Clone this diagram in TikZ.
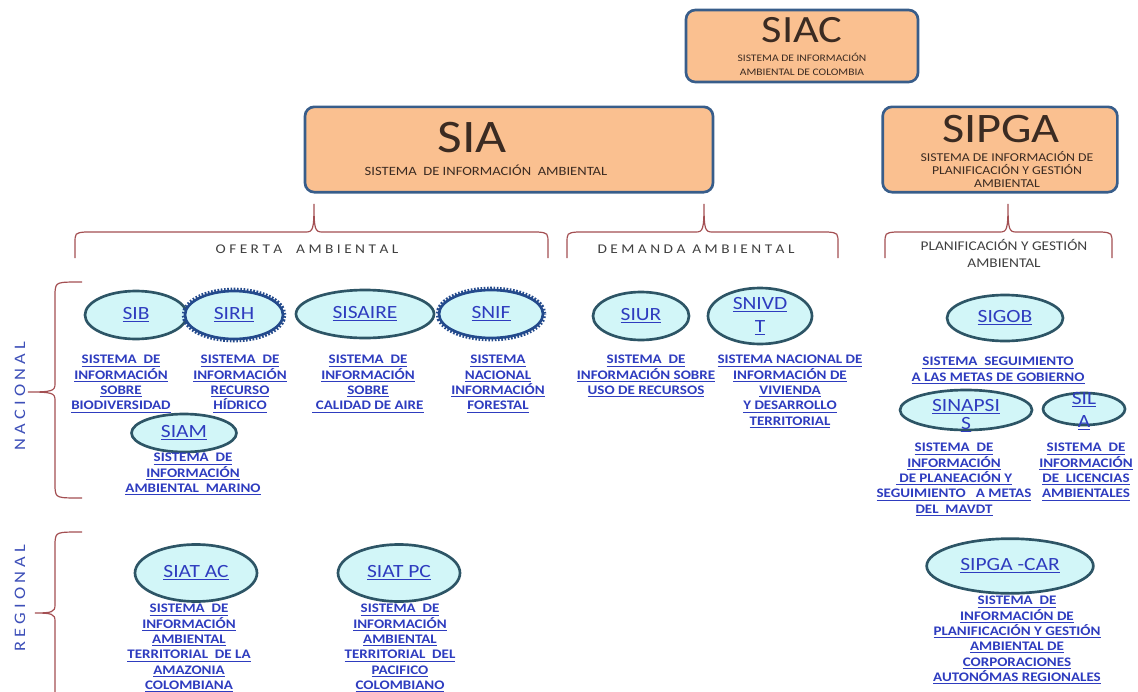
\documentclass[tikz,border=0pt]{standalone}
\usepackage{fontspec}
\setmainfont{Carlito}[FakeStretch=1.15]
\usetikzlibrary{positioning, shapes.geometric}
\definecolor{boxfill}{HTML}{FAC090}
\definecolor{boxline}{HTML}{385D8A}
\definecolor{ellfill}{HTML}{D2F6F8}
\definecolor{ellline}{HTML}{2D5566}
\definecolor{gearline}{HTML}{234A8C}
\definecolor{linkblue}{HTML}{2E3CBF}
\definecolor{bracered}{HTML}{A34F52}
\definecolor{sideblue}{HTML}{3D4FB8}
\definecolor{boxtext}{HTML}{3B2B22}
\tikzset{
    %curly brackets under the boxes and left of the rows
    brc/.style = {draw=bracered, line width=0.9pt},
}
\newcommand\lk[1]{\underline{#1}}
% horizontal bracket: left end, tip, right end
\newcommand\hbrace[3]{%
  \draw[brc] (#1,258) -- (#1,244) .. controls (#1,233) .. (#1+10,232)
    -- (#2-8,232) .. controls (#2-1,232) and (#2,229) .. (#2,204)
    .. controls (#2,229) and (#2+1,232) .. (#2+8,232)
    -- (#3-10,232) .. controls (#3,233) .. (#3,244) -- (#3,258);}
% vertical bracket: top, tip, bottom, tip x
\newcommand\vbrace[4]{%
  \draw[brc] (82,#1) .. controls (56,#1) .. (55,#1+10) -- (55,#2-8)
    .. controls (55,#2-1) and (52,#2) .. (#4,#2)
    .. controls (52,#2) and (55,#2+1) .. (55,#2+8)
    -- (55,#3-10) .. controls (56,#3) .. (82,#3);}

\begin{document}
\begin{tikzpicture}[x=0.75pt, y=-0.75pt,
    sysbox/.style = {draw=boxline, line width=2pt, fill=boxfill, rounded corners=7pt},
    boxtitle/.style = {text=boxtext, inner sep=0pt},
    boxsub/.style = {text=boxtext, align=center, inner sep=0pt},
    elli/.style = {ellipse, draw=ellline, line width=2pt, fill=ellfill, inner sep=0pt,
                   text=linkblue, font=\fontsize{14}{17}\selectfont},
    gear/.style = {preaction={draw=gearline, line width=5pt, dash pattern=on 1.2pt off 1.2pt},
                   draw=gearline},
    elabel/.style = {text=linkblue, align=center, inner sep=0pt,
                     font=\fontsize{14}{16}\selectfont},
    lnk/.style = {font=\bfseries\fontsize{9.8}{11.5}\selectfont, text=linkblue,
                  align=center, inner sep=0pt, anchor=north},
    grp/.style = {text=black!75, font=\fontsize{10}{12.75}\selectfont, align=center, inner sep=0pt},
    side/.style = {text=sideblue, font=\fontsize{12}{14}\selectfont, rotate=90, inner sep=0pt},
  ]
  \useasboundingbox (0,0) rectangle (1138,692);

  % top boxes
  \node[sysbox, minimum width=174pt, minimum height=54pt] (siac) at (802,46) {};
  \node[boxtitle, font=\fontsize{29}{30}\selectfont] (siac-t) at (802,30) {SIAC};
  \node[boxsub, font=\fontsize{7.5}{10.5}\selectfont] (siac-s) at (802,64)
    {SISTEMA DE INFORMACIÓN\\AMBIENTAL DE COLOMBIA};

  \node[sysbox, minimum width=306pt, minimum height=64pt] (sia) at (509,149.5) {};
  \node[boxtitle, font=\fontsize{35}{36}\selectfont] (sia-t) at (472,138) {SIA};
  \node[boxsub, font=\fontsize{9.5}{11}\selectfont] (sia-s) at (486,170)
    {SISTEMA\ \ DE INFORMACIÓN\ \ AMBIENTAL};

  \node[sysbox, minimum width=176pt, minimum height=64pt] (sipga) at (1000,149.5) {};
  \node[boxtitle, font=\fontsize{31.5}{32}\selectfont] (sipga-t) at (1001,129) {SIPGA};
  \node[boxsub, font=\fontsize{9}{9.75}\selectfont] (sipga-s) at (1007,169)
    {SISTEMA DE INFORMACIÓN DE\\PLANIFICACIÓN Y GESTIÓN\\AMBIENTAL};

  % brackets and group names
  \hbrace{75}{314}{548}
  \hbrace{567}{704}{838}
  \hbrace{885}{1008}{1112}
  \node[grp] (oferta) at (307,249) {O F E R T A \ \ \ A M B I E N T A L};
  \node[grp] (demanda) at (696,249) {D E M A N D A \ A M B I E N T A L};
  \node[grp] (planif) at (1004,253.5) {PLANIFICACIÓN Y GESTIÓN\\AMBIENTAL};

  \vbrace{282}{392}{498}{28}
  \vbrace{532}{613}{730}{35}
  \node[side] (nacional) at (20,396) {N A C I O N A L};
  \node[side] (regional) at (20,598) {R E G I O N A L};

  % nacional, oferta
  \node[elli, minimum width=76.5pt, minimum height=36pt] (sib) at (136,315) {\lk{SIB}};
  \node[elli, gear, minimum width=73.5pt, minimum height=36pt] (sirh) at (234,315) {\lk{SIRH}};
  \node[elli, minimum width=103.5pt, minimum height=36pt] (sisaire) at (365,314) {\lk{SISAIRE}};
  \node[elli, gear, minimum width=78pt, minimum height=36pt] (snif) at (491,314) {\lk{SNIF}};
  \node[elli, minimum width=78.75pt, minimum height=28.5pt] (siam) at (184,433) {\lk{SIAM}};

  \node[lnk] (sib-c) at (121,355) {\lk{SISTEMA\ \ DE}\\\lk{INFORMACIÓN}\\\lk{SOBRE}\\\lk{BIODIVERSIDAD}};
  \node[lnk] (sirh-c) at (240,355) {\lk{SISTEMA\ \ DE}\\\lk{INFORMACIÓN}\\\lk{RECURSO}\\\lk{HÍDRICO}};
  \node[lnk] (sisaire-c) at (368,355) {\lk{SISTEMA\ \ DE}\\\lk{INFORMACIÓN}\\\lk{SOBRE}\\\lk{\ CALIDAD DE AIRE}};
  \node[lnk] (snif-c) at (498,355) {\lk{SISTEMA}\\\lk{NACIONAL}\\\lk{INFORMACIÓN}\\\lk{FORESTAL}};
  \node[lnk] (siam-c) at (193,453) {\lk{SISTEMA\ \ DE}\\\lk{INFORMACIÓN}\\\lk{AMBIENTAL\ \ MARINO}};

  % nacional, demanda
  \node[elli, minimum width=72pt, minimum height=36pt] (siur) at (641,316) {\lk{SIUR}};
  \node[elli, minimum width=78pt, minimum height=42pt,
        label={[elabel, font=\fontsize{14}{17.25}\selectfont]center:{\lk{SNIVD}\\\lk{T}}}] (snivdt) at (760,316) {};

  \node[lnk] (siur-c) at (646,355) {\lk{SISTEMA\ \ DE}\\\lk{INFORMACIÓN SOBRE}\\\lk{USO DE RECURSOS}};
  \node[lnk] (snivdt-c) at (790,355) {\lk{SISTEMA NACIONAL DE}\\\lk{INFORMACIÓN DE}\\\lk{VIVIENDA}\\\lk{Y DESARROLLO}\\\lk{TERRITORIAL}};

  % nacional, planificacion
  \node[elli, minimum width=87pt, minimum height=34.5pt] (sigob) at (1005,318) {\lk{SIGOB}};
  \node[elli, minimum width=99pt, minimum height=30pt,
        label={[elabel, yshift=-4.5pt, font=\fontsize{14}{13.5}\selectfont]center:{\lk{SINAPSI}\\\lk{S}}}] (sinapsis) at (966,410) {};
  \node[elli, minimum width=61.5pt, minimum height=24pt,
        label={[elabel, yshift=-1.5pt, font=\fontsize{14}{17.25}\selectfont]center:{\lk{SIL}\\\lk{A}}}] (sila) at (1084,409) {};

  \node[lnk] (sigob-c) at (998,357) {\lk{SISTEMA\ \ SEGUIMIENTO}\\\lk{A LAS METAS DE GOBIERNO}};
  \node[lnk] (sinapsis-c) at (954,443) {\lk{SISTEMA\ \ DE}\\\lk{INFORMACIÓN}\\\lk{\ DE PLANEACIÓN Y}\\\lk{SEGUIMIENTO\ \ \ A METAS}\\\lk{DEL\ \ MAVDT}};
  \node[lnk] (sila-c) at (1086,443) {\lk{SISTEMA\ \ DE}\\\lk{INFORMACIÓN}\\\lk{DE\ \ LICENCIAS}\\\lk{AMBIENTALES}};

  % regional
  \node[elli, minimum width=91.5pt, minimum height=42.75pt] (siatac) at (196,573) {\lk{SIAT AC}};
  \node[elli, minimum width=91.5pt, minimum height=42.75pt] (siatpc) at (399,573) {\lk{SIAT PC}};
  \node[elli, minimum width=125pt, minimum height=41pt] (sipgacar) at (1010,566) {\lk{SIPGA -CAR}};

  \node[lnk] (siatac-c) at (189,604) {\lk{SISTEMA\ \ DE}\\\lk{INFORMACIÓN}\\\lk{AMBIENTAL}\\\lk{TERRITORIAL\ \ DE LA}\\\lk{AMAZONIA}\\\lk{COLOMBIANA}};
  \node[lnk] (siatpc-c) at (400,604) {\lk{SISTEMA\ \ DE}\\\lk{INFORMACIÓN}\\\lk{AMBIENTAL}\\\lk{TERRITORIAL\ \ DEL}\\\lk{PACIFICO}\\\lk{COLOMBIANO}};
  \node[lnk] (sipgacar-c) at (1017,596) {\lk{SISTEMA\ \ DE}\\\lk{INFORMACIÓN DE}\\\lk{PLANIFICACIÓN Y GESTIÓN}\\\lk{AMBIENTAL DE}\\\lk{CORPORACIONES}\\\lk{AUTONÓMAS REGIONALES}};
\end{tikzpicture}
\end{document}
